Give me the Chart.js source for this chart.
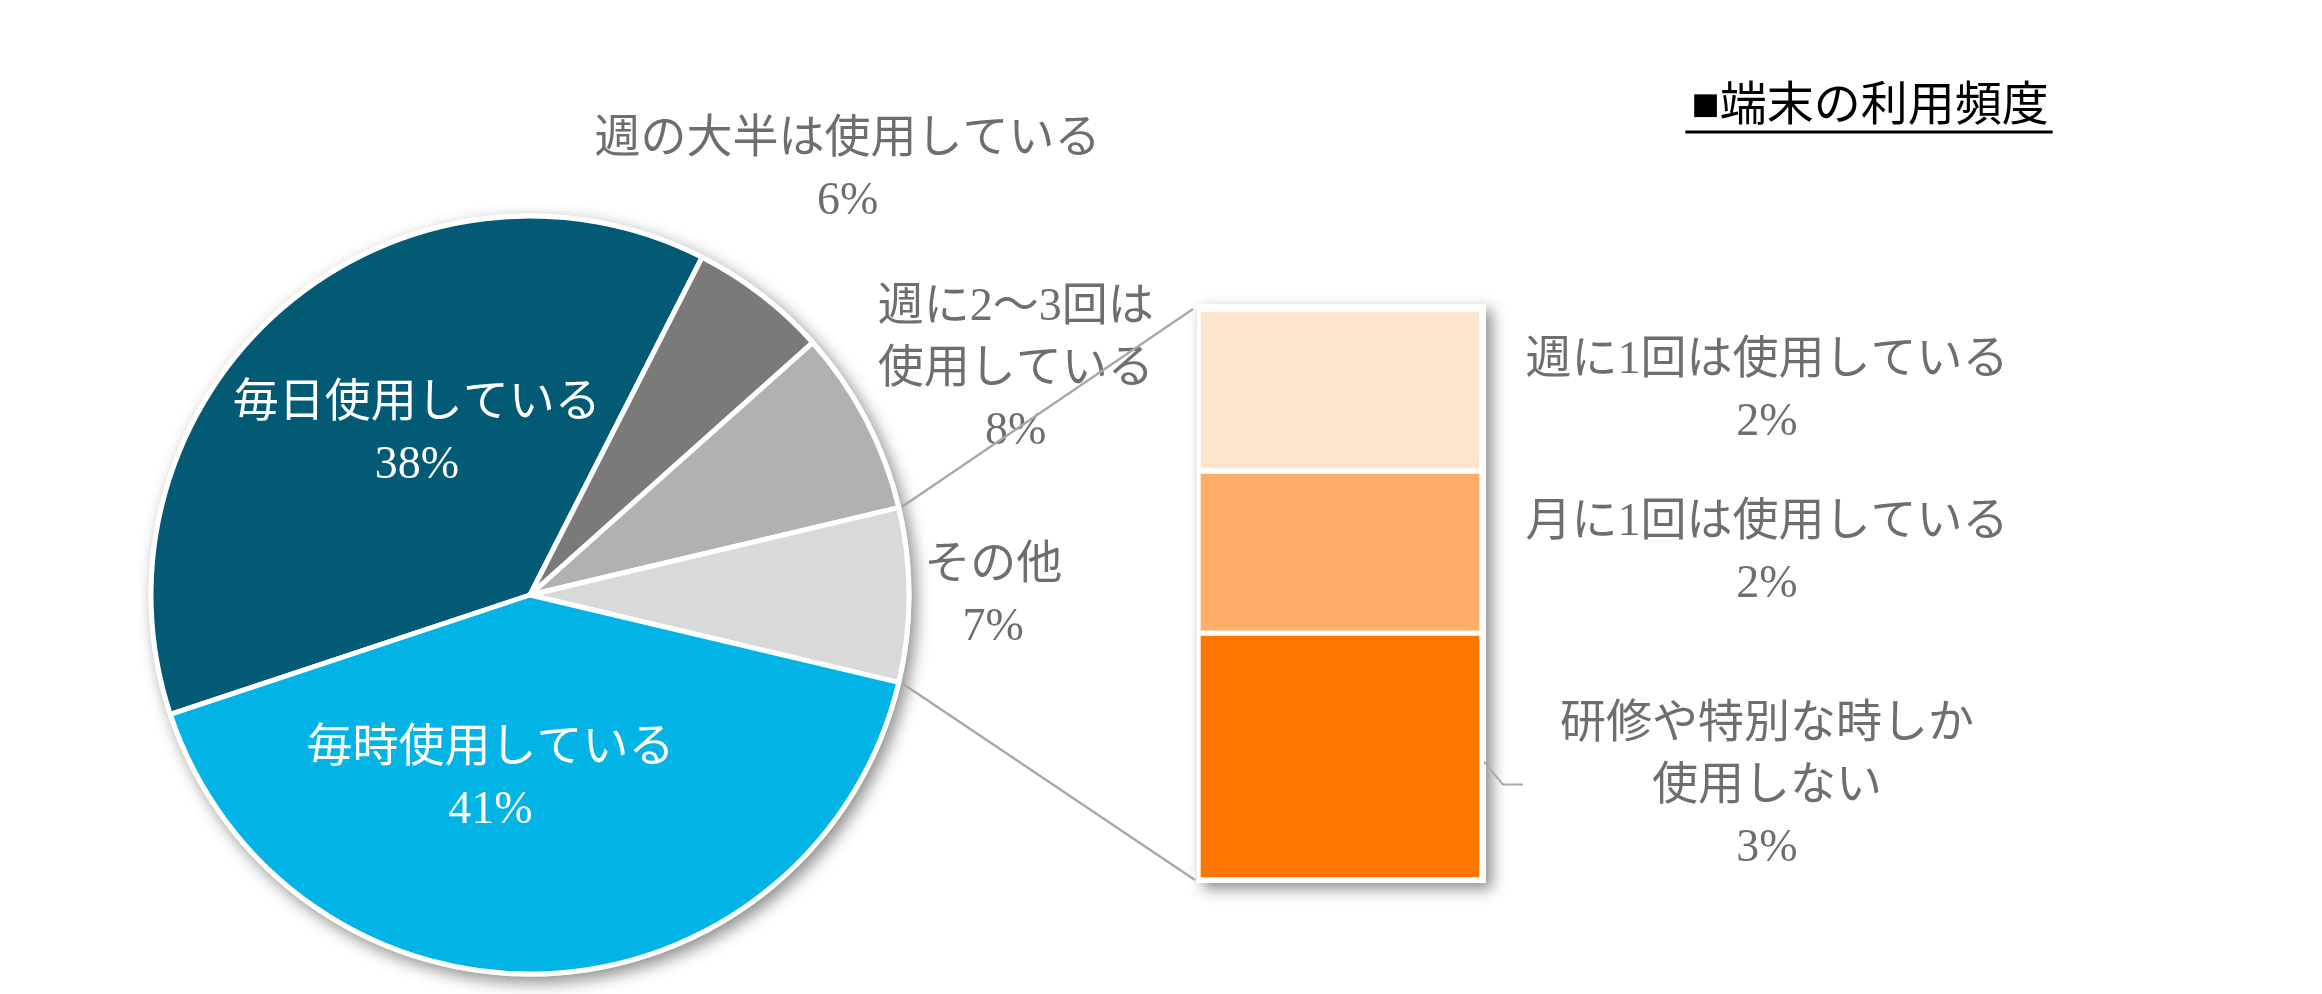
<!DOCTYPE html>
<html lang="ja">
<head>
<meta charset="utf-8">
<title>端末の利用頻度</title>
<script src="https://cdn.jsdelivr.net/npm/chart.js@4.4.1/dist/chart.umd.min.js"></script>
<style>
  html, body { margin: 0; padding: 0; background: #fff; }
  .wrap { position: relative; width: 2322px; height: 994px; overflow: hidden; }
  .wrap canvas { position: absolute; left: 0; top: 0; }
</style>
</head>
<body>
<div class="wrap">
  <canvas id="pieChart" width="2322" height="994"></canvas>
  <canvas id="barChart" width="2322" height="994"></canvas>
</div>
<script>
const chartTitle = '■端末の利用頻度';

// pie (clockwise order), values in %
const pieLabels = ['毎日使用している', '週の大半は使用している', ['週に2〜3回は', '使用している'], 'その他', '毎時使用している'];
const pieValues = [37.6, 5.9, 7.9, 7.4, 41.2];
const otherIndex = 3;

// breakdown of "その他" (bottom to top)
const barLabels = [['研修や特別な時しか', '使用しない'], '月に1回は使用している', '週に1回は使用している'];
const barValues = [3.2, 2.1, 2.1];

const pieColors = ['#025a74', '#7a7a7a', '#b1b1b1', '#d9d9d9', '#02b4e5'];
const barColors = ['#ff7700', '#feac68', '#fde4cc'];

const FONT = '"Liberation Serif", "Noto Sans CJK JP", sans-serif';
const TEXT_GRAY = '#6e6e6e';
const LINE_GRAY = '#a9a9a9';

const pieTotal = pieValues.reduce((a, b) => a + b, 0);
const before = pieValues.slice(0, otherIndex).reduce((a, b) => a + b, 0) + pieValues[otherIndex] / 2;

function drawLines(ctx, lines, x, y, lineH) {
  const top = y - (lines.length - 1) * lineH / 2;
  lines.forEach((t, i) => ctx.fillText(t, x, top + i * lineH));
}

function asLines(label) {
  return Array.isArray(label) ? label.slice() : [label];
}

// label anchor: angle tweak (deg) from slice middle, distance in radii
const pieLabelPos = [
  { da: 5.4, r: 0.517, color: '#ffffff' },
  { da: -0.8, r: 1.398, color: TEXT_GRAY },
  { da: 2.7, r: 1.412, color: TEXT_GRAY },
  { da: 0.2, r: 1.222, color: TEXT_GRAY },
  { da: 14.6, r: 0.499, color: '#ffffff' }
];

const pieShadow = {
  id: 'pieShadow',
  beforeDatasetsDraw(chart) {
    const arc = chart.getDatasetMeta(0).data[0];
    const ctx = chart.ctx;
    ctx.save();
    ctx.shadowColor = 'rgba(0,0,0,0.45)';
    ctx.shadowBlur = 16;
    ctx.shadowOffsetX = 5;
    ctx.shadowOffsetY = 6;
    ctx.fillStyle = '#fff';
    ctx.beginPath();
    ctx.arc(arc.x, arc.y, arc.outerRadius + 2.5, 0, Math.PI * 2);
    ctx.fill();
    ctx.restore();
  }
};

const pieText = {
  id: 'pieText',
  afterDatasetsDraw(chart) {
    const ctx = chart.ctx;
    const arcs = chart.getDatasetMeta(0).data;
    ctx.save();
    ctx.font = '46px ' + FONT;
    ctx.textAlign = 'center';
    ctx.textBaseline = 'middle';
    arcs.forEach((arc, i) => {
      const pos = pieLabelPos[i];
      const mid = (arc.startAngle + arc.endAngle) / 2 + pos.da * Math.PI / 180;
      const x = arc.x + Math.cos(mid) * arc.outerRadius * pos.r;
      const y = arc.y + Math.sin(mid) * arc.outerRadius * pos.r;
      const lines = asLines(pieLabels[i]);
      lines.push(Math.round(pieValues[i] / pieTotal * 100) + '%');
      ctx.fillStyle = pos.color;
      drawLines(ctx, lines, x, y, 62);
    });
    ctx.restore();
  }
};

const pieChart = new Chart(document.getElementById('pieChart'), {
  type: 'pie',
  data: {
    labels: pieLabels,
    datasets: [{
      data: pieValues,
      backgroundColor: pieColors,
      borderColor: '#ffffff',
      borderWidth: 5
    }]
  },
  options: {
    responsive: false,
    animation: false,
    rotation: 90 - before / pieTotal * 360,
    radius: 379,
    layout: { padding: { left: 151, right: 1413, top: 216, bottom: 20 } },
    plugins: {
      legend: { display: false },
      tooltip: { enabled: false }
    }
  },
  plugins: [pieShadow, pieText]
});

function barBox(chart) {
  let l = Infinity, r = -Infinity, t = Infinity, b = -Infinity;
  chart.data.datasets.forEach((ds, i) => {
    chart.getDatasetMeta(i).data.forEach(el => {
      l = Math.min(l, el.x - el.width / 2);
      r = Math.max(r, el.x + el.width / 2);
      t = Math.min(t, el.y, el.base);
      b = Math.max(b, el.y, el.base);
    });
  });
  return { l, r, t, b };
}

const barFrame = {
  id: 'barFrame',
  beforeDatasetsDraw(chart) {
    const box = barBox(chart);
    const ctx = chart.ctx;
    ctx.save();
    ctx.shadowColor = 'rgba(0,0,0,0.45)';
    ctx.shadowBlur = 14;
    ctx.shadowOffsetX = 6;
    ctx.shadowOffsetY = 6;
    ctx.fillStyle = '#fff';
    ctx.fillRect(box.l - 1, box.t - 5, box.r - box.l + 5, box.b - box.t + 8);
    ctx.restore();
  }
};

const barText = {
  id: 'barText',
  afterDatasetsDraw(chart) {
    const ctx = chart.ctx;
    const box = barBox(chart);
    const shift = [30, 2, 2];

    // connectors from the "その他" slice to the bar
    const other = pieChart.getDatasetMeta(0).data[otherIndex];
    const rr = other.outerRadius + 3;
    ctx.save();
    ctx.strokeStyle = LINE_GRAY;
    ctx.lineWidth = 2.5;
    ctx.beginPath();
    ctx.moveTo(other.x + Math.cos(other.startAngle) * rr, other.y + Math.sin(other.startAngle) * rr);
    ctx.lineTo(box.l - 5, box.t);
    ctx.moveTo(other.x + Math.cos(other.endAngle) * rr, other.y + Math.sin(other.endAngle) * rr);
    ctx.lineTo(box.l - 3, box.b);
    ctx.stroke();

    ctx.font = '46px ' + FONT;
    ctx.textAlign = 'center';
    ctx.textBaseline = 'middle';
    ctx.fillStyle = TEXT_GRAY;
    chart.data.datasets.forEach((ds, i) => {
      const el = chart.getDatasetMeta(i).data[0];
      const cy = (el.y + el.base) / 2;
      const lines = asLines(barLabels[i]);
      lines.push(Math.round(barValues[i] / pieTotal * 100) + '%');
      drawLines(ctx, lines, box.r + 285, cy + shift[i], 62);
      if (lines.length > 2) {
        ctx.beginPath();
        ctx.lineWidth = 2;
        ctx.moveTo(box.r + 2, cy + 5);
        ctx.lineTo(box.r + 21, cy + 28);
        ctx.lineTo(box.r + 41, cy + 28);
        ctx.stroke();
      }
    });

    // title
    ctx.fillStyle = '#000';
    ctx.font = '47px ' + FONT;
    const tx = 1870, ty = 108;
    ctx.fillText(chartTitle, tx, ty);
    const w = ctx.measureText(chartTitle).width;
    ctx.strokeStyle = '#000';
    ctx.lineWidth = 3;
    ctx.beginPath();
    ctx.moveTo(tx - w / 2 - 6, 132);
    ctx.lineTo(tx + w / 2 + 4, 132);
    ctx.stroke();
    ctx.restore();
  }
};

const barTotal = barValues.reduce((a, b) => a + b, 0);

new Chart(document.getElementById('barChart'), {
  type: 'bar',
  data: {
    labels: [''],
    datasets: barLabels.map((label, i) => ({
      label: Array.isArray(label) ? label.join('') : label,
      data: [barValues[i]],
      backgroundColor: barColors[i],
      borderColor: '#ffffff',
      borderWidth: 3,
      borderSkipped: false,
      barPercentage: 1,
      categoryPercentage: 1
    }))
  },
  options: {
    responsive: false,
    animation: false,
    layout: { padding: { left: 1198, right: 840, top: 309, bottom: 114 } },
    scales: {
      x: { stacked: true, display: false },
      y: { stacked: true, display: false, min: 0, max: barTotal }
    },
    plugins: {
      legend: { display: false },
      tooltip: { enabled: false }
    }
  },
  plugins: [barFrame, barText]
});
</script>
</body>
</html>
